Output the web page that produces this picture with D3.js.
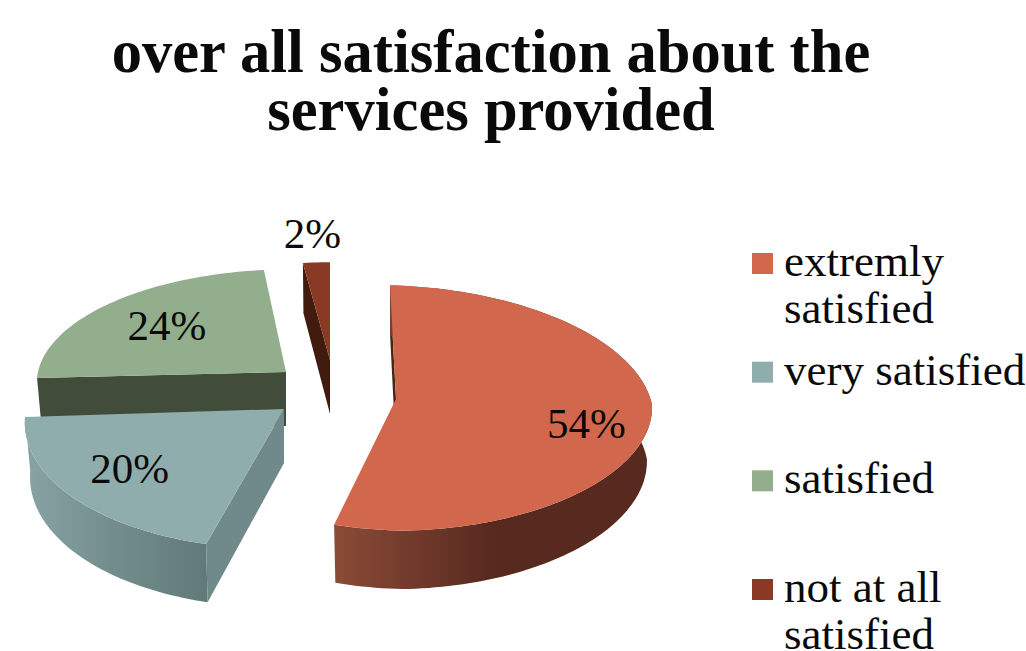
<!DOCTYPE html>
<html>
<head>
<meta charset="utf-8">
<script src="https://cdn.jsdelivr.net/npm/d3@7"></script>
<style>
  html, body { margin: 0; padding: 0; background: #fff; }
  svg { display: block; }
  text { font-family: "Liberation Serif", serif; fill: #0a0a0a; }
</style>
</head>
<body>
<script>
const titleLines = ["over all satisfaction about the", "services provided"];
const categories = ["extremly satisfied", "very satisfied", "satisfied", "not at all satisfied"];
const categoryLines = [["extremly", "satisfied"], ["very satisfied"], ["satisfied"], ["not at all", "satisfied"]];
const values = [54, 20, 24, 2];
const colors = ["#d1674c", "#8fadac", "#93ae8c", "#8a3a24"];

const width = 1026, height = 651;

// every slice is pulled out and seen slightly differently, so each one has its own projection
// rimCut pulls the rim in on the lower right, where the big slice is flatter than an ellipse
const sliceGeom = [
  { cx: 396, cy: 399, rx: 256, ry: 122, sx: 6.4, sy: 6, rimCut: 0.04, labelF: 0.75, labelDy: 8 },
  { cx: 284, cy: 409, rx: 257.7, ry: 129.5, sx: -8.5, sy: 0.2, rimCut: 0, labelF: 0.73, labelDy: -3 },
  { cx: 286, cy: 372, rx: 247.8, ry: 110.2, sx: -7.4, sy: 1, rimCut: 0, labelF: 0.66, labelDy: -2 },
  { cx: 330, cy: 360, rx: 232, ry: 105, sx: 0, sy: 0, rimCut: 0, labelF: 1.33, labelDy: 0 }
];
const perspective = 0.074;
const depth = 54;
const bottomScale = 0.98;

const svg = d3.select("body").append("svg")
  .attr("width", width)
  .attr("height", height);

function addGradient(id, stops) {
  const g = svg.append("defs").append("linearGradient")
    .attr("id", id)
    .attr("gradientUnits", "objectBoundingBox")
    .attr("x1", 0).attr("x2", 1).attr("y1", 0).attr("y2", 0);
  stops.forEach(s => g.append("stop").attr("offset", s[0]).attr("stop-color", s[1]));
}
addGradient("redSide", [[0, "#8b4b37"], [0.5, "#57291f"], [1, "#57291f"]]);
addGradient("blueSide", [[0, "#88a3a3"], [0.5, "#728c8c"], [1, "#627979"]]);

const arcs = d3.pie().sort(null).value(d => d)(values);

// top surface point of a slice at pie angle a, f = fraction of the radius
function topPoint(geom, a, f = 1) {
  const cut = 1 - geom.rimCut * Math.max(0, -Math.sin(2 * a)) * (a < Math.PI ? 1 : 0);
  const u = Math.sin(a) * f * cut, v = -Math.cos(a) * f * cut;
  const w = 1 - perspective * v;
  return [geom.cx + (geom.rx * u + geom.sx * v) / w, geom.cy + (geom.ry * v + geom.sy * u) / w];
}

// same point on the bottom of the slice
function bottomPoint(geom, a, f = 1) {
  const p = topPoint(geom, a, f);
  const w = 1 + perspective * Math.cos(a) * f;
  return [geom.cx + (p[0] - geom.cx) * bottomScale, p[1] + depth / w];
}

function sampleAngles(a0, a1) {
  const n = Math.max(4, Math.ceil((a1 - a0) * 40));
  return d3.range(n + 1).map(i => a0 + (a1 - a0) * i / n);
}

const line = d3.line();

function drawTop(i) {
  const geom = sliceGeom[i], d = arcs[i];
  const pts = sampleAngles(d.startAngle, d.endAngle).map(a => topPoint(geom, a));
  svg.append("path")
    .attr("d", line([[geom.cx, geom.cy], ...pts]) + "Z")
    .attr("fill", colors[i]);
}

function drawOuterSide(i, fill) {
  const geom = sliceGeom[i], d = arcs[i];
  const angles = sampleAngles(d.startAngle, d.endAngle);
  const pts = angles.map(a => topPoint(geom, a))
    .concat(angles.slice().reverse().map(a => bottomPoint(geom, a)));
  svg.append("path")
    .attr("d", line(pts) + "Z")
    .attr("fill", fill);
}

// the flat cut face between centre and rim at angle a
function drawCutFace(i, a, fill) {
  const geom = sliceGeom[i];
  const pts = [
    [geom.cx, geom.cy],
    topPoint(geom, a),
    bottomPoint(geom, a),
    [geom.cx, geom.cy + depth]
  ];
  svg.append("path")
    .attr("d", line(pts) + "Z")
    .attr("fill", fill);
}

// back to front: green, dark red, blue, red
drawCutFace(2, arcs[2].startAngle, "#414c3b");
drawTop(2);

drawCutFace(3, arcs[3].startAngle, "#401b0e");
drawTop(3);

drawOuterSide(1, "url(#blueSide)");
drawCutFace(1, arcs[1].startAngle, "#70898a");
drawTop(1);

drawCutFace(0, arcs[0].startAngle, "#4a2416");
drawOuterSide(0, "url(#redSide)");
drawTop(0);

// percent labels
arcs.forEach((d, i) => {
  const geom = sliceGeom[i];
  const p = topPoint(geom, (d.startAngle + d.endAngle) / 2, geom.labelF);
  svg.append("text")
    .attr("x", p[0])
    .attr("y", p[1] + geom.labelDy)
    .attr("dy", "0.35em")
    .attr("text-anchor", "middle")
    .attr("font-size", 43)
    .text(d.value + "%");
});

// title
svg.selectAll("text.title")
  .data(titleLines)
  .enter().append("text")
  .attr("class", "title")
  .attr("x", 491)
  .attr("y", (d, i) => 72 + i * 58)
  .attr("text-anchor", "middle")
  .attr("font-weight", "bold")
  .attr("font-size", 60.5)
  .text(d => d);

// legend
const legendY = d3.scalePoint().domain(categories).range([253, 579]);
const legend = svg.selectAll("g.legend")
  .data(categories)
  .enter().append("g")
  .attr("class", "legend")
  .attr("transform", d => `translate(752,${legendY(d)})`);

legend.append("rect")
  .attr("width", 21)
  .attr("height", 21)
  .attr("fill", (d, i) => colors[i]);

legend.each(function (d, i) {
  d3.select(this).selectAll("text")
    .data(categoryLines[i])
    .enter().append("text")
    .attr("x", 32)
    .attr("y", (t, j) => 23 + j * 47)
    .attr("font-size", 45)
    .text(t => t);
});
</script>
</body>
</html>
